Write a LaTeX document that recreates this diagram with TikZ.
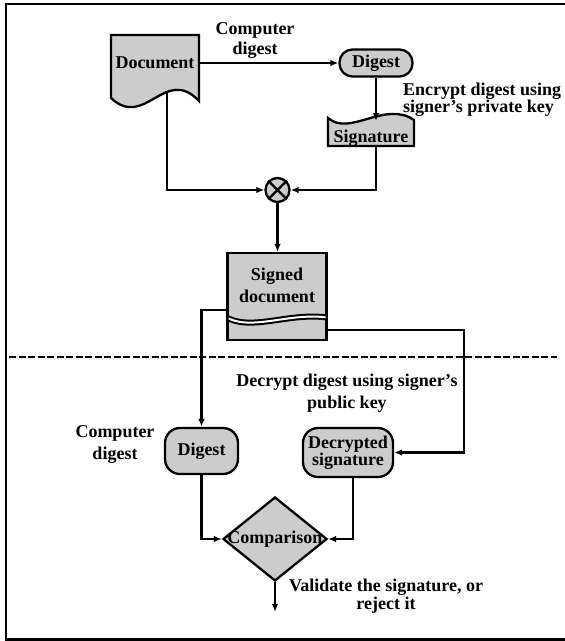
\documentclass[tikz,border=0pt]{standalone}
\usepackage{fontspec}
\setmainfont{Liberation Serif}
\usetikzlibrary{shapes.geometric,arrows.meta,calc}
\definecolor{boxgray}{RGB}{204,204,204}
\begin{document}
\begin{tikzpicture}[x=1pt,y=-1pt,
  every node/.style={font=\bfseries\fontsize{18}{19}\selectfont, inner sep=0pt},
  arr/.style={line width=2.3pt,-{Latex[length=8pt,width=6.5pt]}},
  shapeline/.style={draw,line width=2.3pt,fill=boxgray},
  pill/.style={shapeline,rounded corners=13pt},
  lbl/.style={align=center}
]
\useasboundingbox (0,0) rectangle (565,641);
% frame
\draw[line width=2.3pt] (565,4) -- (6,4) -- (6,639.5) -- (565,639.5);

% ---------- upper part ----------
\draw[shapeline] (111,35) -- (199,35) -- (199,101) .. controls (165,65) and (145,130) .. (111,98) -- cycle;
\node[minimum width=88pt, minimum height=54pt] (doc) at (155,63) {Document};

\node[pill, minimum width=73pt, minimum height=27pt] (dig1) at (376,63) {Digest};

\draw[shapeline] (328,146) -- (328,118) .. controls (350,137) and (385,100) .. (414,120) -- (414,146) -- cycle;
\node[minimum width=86pt, minimum height=16pt] (sig) at (371,138) {Signature};
\coordinate (sigtop) at (376,121);

\node[circle, shapeline, minimum size=24pt] (mix) at (277.5,190) {};
\draw[line width=2.3pt] (mix.north west) -- (mix.south east) (mix.north east) -- (mix.south west);

\node[shapeline, minimum width=99pt, minimum height=87pt] (sd) at (277,296.5) {};
\begin{scope}
  \clip (228.5,255) rectangle (325.5,338);
  \draw[line width=6pt] (224,316) .. controls (250,333) and (290,311) .. (330,318);
  \draw[line width=2pt, white] (224,316) .. controls (250,333) and (290,311) .. (330,318);
\end{scope}
\node[lbl, font=\bfseries\fontsize{18}{22}\selectfont] (sdt) at (277,285) {Signed\\document};

\node[lbl, font=\bfseries\fontsize{18}{20}\selectfont] (lab1) at (255,41) {Computer\\digest};
\node[align=left, anchor=west, font=\bfseries\fontsize{18}{14}\selectfont] (lab2) at (403,100) {Encrypt digest using\\signer’s private key};

\coordinate (docb) at (167,93);
\draw[arr] (doc.east) -- (doc.east -| dig1.west);
\draw[arr] (dig1.south) -- (sigtop);
\draw[arr] (docb) |- (mix.west);
\draw[arr] ([xshift=5pt]sig.south) |- (mix.east);
\draw[arr] (mix.south) -- (mix.south |- sd.north);

% ---------- divider ----------
\coordinate (dl) at (9,357);
\coordinate (dr) at (557,357);
\draw[line width=2.5pt, dash pattern=on 7pt off 2.5pt] (dl) -- (dr);

% ---------- lower part ----------
\node[pill, rounded corners=15pt, minimum width=73pt, minimum height=46pt] (dig2) at (201.5,451) {Digest};
\node[pill, rounded corners=15pt, minimum width=90pt, minimum height=49pt, align=center, font=\bfseries\fontsize{18}{16}\selectfont] (dec) at (348,452.5) {Decrypted\\signature};

\node[diamond, shapeline, minimum width=104pt, minimum height=84pt] (cmp) at (275,539) {};
\node (cmpt) at (275,539) {Comparison};

\node[lbl, font=\bfseries\fontsize{18}{22}\selectfont] (lab3) at (347,393) {Decrypt digest using signer’s\\public key};
\node[lbl, font=\bfseries\fontsize{18}{22}\selectfont] (lab4) at (115,445) {Computer\\digest};
\node[lbl, font=\bfseries\fontsize{18}{16}\selectfont] (lab5) at (386,596) {Validate the signature, or\\reject it};

\coordinate (rt) at (464,400);
\coordinate (out) at (275,612);
\draw[arr] ([yshift=-13.5pt]sd.west) -| (dig2.north);
\draw[arr] ([yshift=-33.5pt]sd.east) -| (rt) |- (dec.east);
\draw[arr] (dig2.south) |- (cmp.west);
\draw[arr] ([xshift=5pt]dec.south) |- (cmp.east);
\draw[arr] (cmp.south) -- (out);
\end{tikzpicture}
\end{document}
